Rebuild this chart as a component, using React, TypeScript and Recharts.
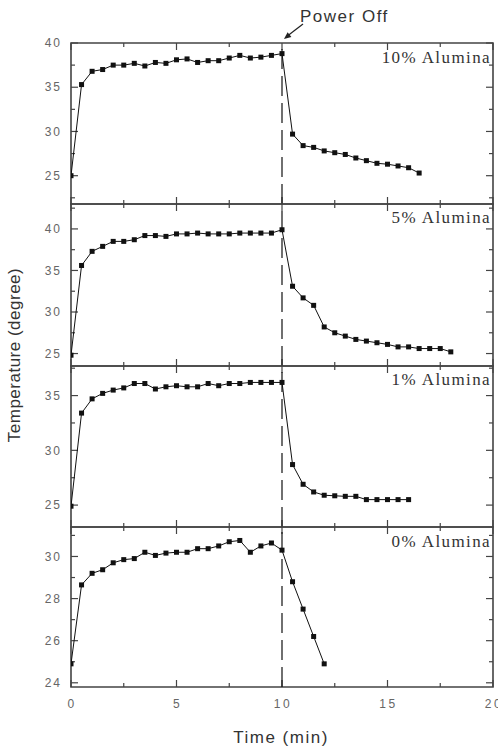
import { Line, LineChart, ReferenceArea, ReferenceLine, XAxis, YAxis } from "recharts";

// 10% Alumina
const times10 = [0, 0.5, 1, 1.5, 2, 2.5, 3, 3.5, 4, 4.5, 5, 5.5, 6, 6.5, 7, 7.5, 8, 8.5, 9, 9.5, 10, 10.5, 11, 11.5, 12, 12.5, 13, 13.5, 14, 14.5, 15, 15.5, 16, 16.5];
const temps10 = [25, 35.3, 36.8, 37.0, 37.5, 37.5, 37.7, 37.4, 37.8, 37.7, 38.1, 38.2, 37.8, 38.0, 38.0, 38.3, 38.6, 38.3, 38.4, 38.6, 38.8, 29.7, 28.4, 28.2, 27.8, 27.6, 27.4, 27.0, 26.7, 26.4, 26.3, 26.1, 25.9, 25.3];

// 5% Alumina
const times5 = [0, 0.5, 1, 1.5, 2, 2.5, 3, 3.5, 4, 4.5, 5, 5.5, 6, 6.5, 7, 7.5, 8, 8.5, 9, 9.5, 10, 10.5, 11, 11.5, 12, 12.5, 13, 13.5, 14, 14.5, 15, 15.5, 16, 16.5, 17, 17.5, 18];
const temps5 = [24.8, 35.6, 37.3, 37.9, 38.5, 38.5, 38.7, 39.2, 39.2, 39.1, 39.4, 39.4, 39.5, 39.4, 39.4, 39.4, 39.5, 39.5, 39.5, 39.5, 39.9, 33.1, 31.7, 30.8, 28.2, 27.5, 27.1, 26.7, 26.5, 26.3, 26.1, 25.8, 25.8, 25.6, 25.6, 25.6, 25.2];

// 1% Alumina
const times1 = [0, 0.5, 1, 1.5, 2, 2.5, 3, 3.5, 4, 4.5, 5, 5.5, 6, 6.5, 7, 7.5, 8, 8.5, 9, 9.5, 10, 10.5, 11, 11.5, 12, 12.5, 13, 13.5, 14, 14.5, 15, 15.5, 16];
const temps1 = [24.9, 33.4, 34.7, 35.2, 35.5, 35.7, 36.1, 36.1, 35.6, 35.8, 35.9, 35.8, 35.8, 36.1, 35.9, 36.1, 36.1, 36.2, 36.2, 36.2, 36.2, 28.7, 26.9, 26.2, 25.9, 25.85, 25.8, 25.8, 25.5, 25.5, 25.5, 25.5, 25.5];

// 0% Alumina
const times0 = [0, 0.5, 1, 1.5, 2, 2.5, 3, 3.5, 4, 4.5, 5, 5.5, 6, 6.5, 7, 7.5, 8, 8.5, 9, 9.5, 10, 10.5, 11, 11.5, 12];
const temps0 = [24.9, 28.65, 29.2, 29.37, 29.7, 29.85, 29.9, 30.2, 30.05, 30.16, 30.2, 30.2, 30.37, 30.37, 30.5, 30.7, 30.76, 30.2, 30.5, 30.64, 30.3, 28.8, 27.5, 26.2, 24.9];

const xMajor = [0, 5, 10, 15, 20];
const xMinor = [2.5, 7.5, 12.5, 17.5];

const yMajor10 = [25, 30, 35, 40];
const yMinor10 = [22.5, 27.5, 32.5, 37.5];
const yMajor5 = [25, 30, 35, 40];
const yMinor5 = [27.5, 32.5, 37.5, 42.5];
const yMajor1 = [25, 30, 35];
const yMinor1 = [27.5, 32.5, 37.5];
const yMajor0 = [24, 26, 28, 30];
const yMinor0 = [25, 27, 29, 31];

const FRAME = "#444";
const INK = "#111";
const SANS = "'Liberation Sans', Arial, sans-serif";
const SERIF = "'Liberation Serif', 'Times New Roman', serif";
const PLOT_W = 422;
const X_MAX = 20;

const toRows = (t: number[], v: number[]) => t.map((x, i) => ({ t: x, v: v[i] }));

const leftLabel = (p: any) => (
  <text x={p.x - 9} y={p.y} dy="0.35em" textAnchor="end" fontSize={12} letterSpacing={2}
    fill="#666" fontFamily={SANS}>
    {p.payload.value}
  </text>
);

const bottomLabel = (p: any) => (
  <text x={p.x + 1} y={p.y + 21} textAnchor="middle" fontSize={12} letterSpacing={2.5}
    fill="#666" fontFamily={SANS}>
    {p.payload.value}
  </text>
);

const squareDot = (p: any) => (
  <rect key={`d${p.index}`} x={p.cx - 2.5} y={p.cy - 2.5} width={5} height={5} fill={INK} />
);

function Panel({ rows, domain, major, minor, top, height, showX }: {
  rows: { t: number; v: number }[];
  domain: [number, number];
  major: number[];
  minor: number[];
  top: number;
  height: number;
  showX: boolean;
}) {
  const extra = showX ? 40 : 0;
  const [y0, y1] = domain;
  // tick lengths, in data units, for inward tick marks of 7px (major) and 4px (minor)
  const ux = X_MAX / PLOT_W;
  const uy = (y1 - y0) / height;
  const tickProps = { xAxisId: "b", yAxisId: "l", stroke: FRAME, strokeWidth: 1.2, ifOverflow: "visible" as const };
  const yTickMarks = [
    ...major.map((v) => ({ v, len: 7 })),
    ...minor.map((v) => ({ v, len: 4 })),
  ];
  const xTickMarks = [
    ...xMajor.map((v) => ({ v, len: 7 })),
    ...xMinor.map((v) => ({ v, len: 4 })),
  ];
  return (
    <div style={{ position: "absolute", left: 0, top: top - 8 }}>
      <LineChart width={498} height={height + 10 + extra} data={rows}
        margin={{ top: 8, right: 498 - 71 - PLOT_W, bottom: 2, left: 0 }}>
        <XAxis xAxisId="b" type="number" dataKey="t" domain={[0, X_MAX]} ticks={xMajor} interval={0}
          hide={!showX} height={extra} tickSize={0} tickMargin={0} tick={bottomLabel}
          axisLine={false} tickLine={false} allowDataOverflow />
        <YAxis yAxisId="l" type="number" domain={domain} ticks={major} interval={0} width={71}
          tickSize={0} tickMargin={0} tick={leftLabel} axisLine={false} tickLine={false} allowDataOverflow />
        <ReferenceArea xAxisId="b" yAxisId="l" x1={0} x2={X_MAX} y1={y0} y2={y1}
          fill="none" fillOpacity={0} stroke={FRAME} strokeWidth={1.6} ifOverflow="visible" />
        {yTickMarks.map(({ v, len }) => (
          <ReferenceLine key={`yl${v}`} {...tickProps} segment={[{ x: 0, y: v }, { x: len * ux, y: v }]} />
        ))}
        {yTickMarks.map(({ v, len }) => (
          <ReferenceLine key={`yr${v}`} {...tickProps} segment={[{ x: X_MAX, y: v }, { x: X_MAX - len * ux, y: v }]} />
        ))}
        {xTickMarks.map(({ v, len }) => (
          <ReferenceLine key={`xb${v}`} {...tickProps} segment={[{ x: v, y: y0 }, { x: v, y: y0 + len * uy }]} />
        ))}
        {xTickMarks.map(({ v, len }) => (
          <ReferenceLine key={`xt${v}`} {...tickProps} segment={[{ x: v, y: y1 }, { x: v, y: y1 - len * uy }]} />
        ))}
        <ReferenceLine xAxisId="b" yAxisId="l" x={10} stroke={INK} strokeWidth={1.2} strokeDasharray="20 7" />
        <Line xAxisId="b" yAxisId="l" type="linear" dataKey="v" stroke={INK} strokeWidth={1}
          dot={squareDot} activeDot={false} isAnimationActive={false} />
      </LineChart>
    </div>
  );
}

export default function App() {
  return (
    <div style={{ position: "absolute", left: 0, top: 0, width: 498, height: 751, background: "#fff" }}>
      <Panel rows={toRows(times10, temps10)} domain={[21.8, 40]} major={yMajor10} minor={yMinor10}
        top={43} height={161} showX={false} />
      <Panel rows={toRows(times5, temps5)} domain={[23.5, 43]} major={yMajor5} minor={yMinor5}
        top={204} height={162} showX={false} />
      <Panel rows={toRows(times1, temps1)} domain={[23, 37.7]} major={yMajor1} minor={yMinor1}
        top={366} height={161} showX={false} />
      <Panel rows={toRows(times0, temps0)} domain={[23.8, 31.4]} major={yMajor0} minor={yMinor0}
        top={527} height={160} showX={true} />
      <svg width={498} height={751} style={{ position: "absolute", left: 0, top: 0, pointerEvents: "none" }}>
        <text x={300} y={22} fontSize={17} letterSpacing={1.5} fill="#333" fontFamily={SANS}>Power Off</text>
        <line x1={303} y1={24} x2={288} y2={35.5} stroke="#222" strokeWidth={1.2} />
        <polygon points="284,39 291.4,37 287.6,32.3" fill="#222" />
        <text x={491} y={63} textAnchor="end" fontSize={17} letterSpacing={1.4} fill="#333" fontFamily={SERIF}>10% Alumina</text>
        <text x={491} y={223} textAnchor="end" fontSize={17} letterSpacing={1.4} fill="#333" fontFamily={SERIF}>5% Alumina</text>
        <text x={491} y={385} textAnchor="end" fontSize={17} letterSpacing={1.4} fill="#333" fontFamily={SERIF}>1% Alumina</text>
        <text x={491} y={547} textAnchor="end" fontSize={17} letterSpacing={1.4} fill="#333" fontFamily={SERIF}>0% Alumina</text>
        <text x={281} y={743} textAnchor="middle" fontSize={17} letterSpacing={1.5} fill="#333" fontFamily={SANS}>Time (min)</text>
        <text x={20} y={355} textAnchor="middle" fontSize={17} letterSpacing={0.5} fill="#333" fontFamily={SANS}
          transform="rotate(-90 20 355)">Temperature (degree)</text>
      </svg>
    </div>
  );
}
